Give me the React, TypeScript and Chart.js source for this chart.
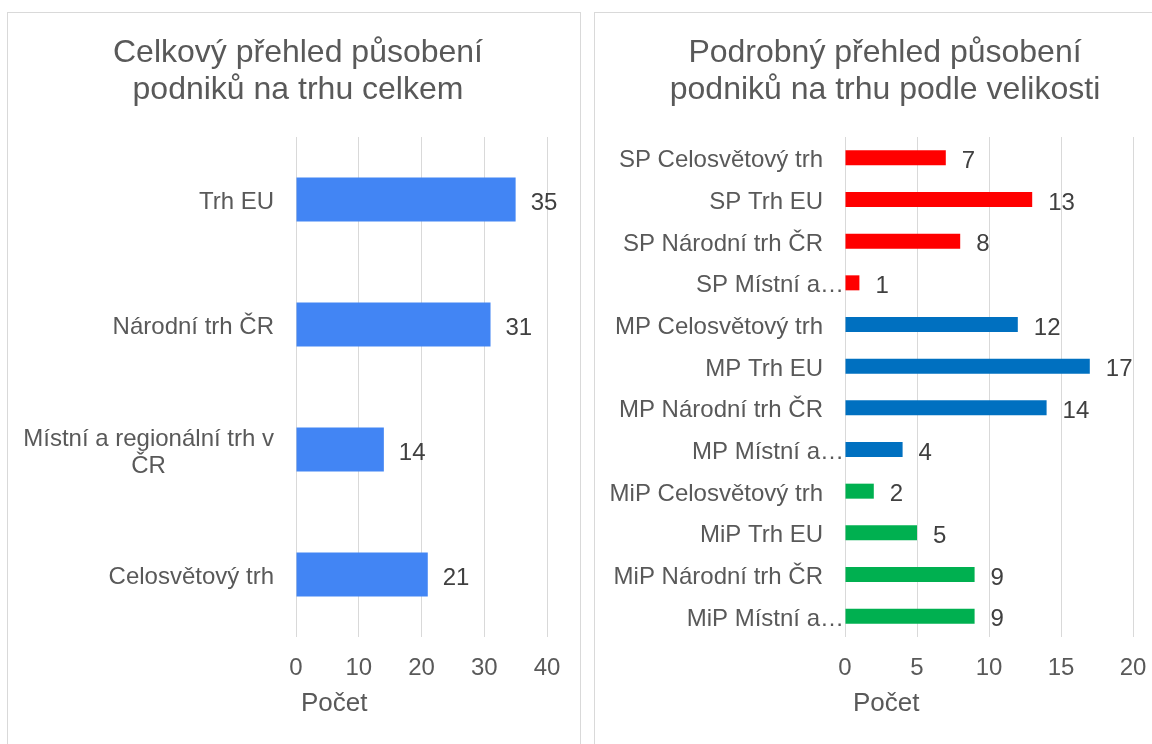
import React, { useEffect, useRef } from 'react';
import { Chart, registerables } from 'chart.js';

Chart.register(...registerables);

const FONT = '"Liberation Sans", Arial, Helvetica, sans-serif';

// ---- data ----
const totalTitle = ['Celkový přehled působení', 'podniků na trhu celkem'];
const totalCategories = ['Trh EU', 'Národní trh ČR', 'Místní a regionální trh v ČR', 'Celosvětový trh'];
const totalValues = [35, 31, 14, 21];
const totalAxisMax = 40;
const totalAxisStep = 10;

const detailTitle = ['Podrobný přehled působení', 'podniků na trhu podle velikosti'];
const detailCategories = [
  'SP Celosvětový trh',
  'SP Trh EU',
  'SP Národní trh ČR',
  'SP Místní a…',
  'MP Celosvětový trh',
  'MP Trh EU',
  'MP Národní trh ČR',
  'MP Místní a…',
  'MiP Celosvětový trh',
  'MiP Trh EU',
  'MiP Národní trh ČR',
  'MiP Místní a…',
];
const detailValues = [7, 13, 8, 1, 12, 17, 14, 4, 2, 5, 9, 9];
const detailGroups = ['SP', 'SP', 'SP', 'SP', 'MP', 'MP', 'MP', 'MP', 'MiP', 'MiP', 'MiP', 'MiP'];
const detailAxisMax = 20;
const detailAxisStep = 5;

const axisTitle = 'Počet';

// ---- styles ----
const totalColor = '#4285F4';
const groupColors: Record<string, string> = { SP: '#FF0000', MP: '#0070C0', MiP: '#00B050' };
const TEXT = '#595959';
const VALUE_TEXT = '#404040';
const GRID = '#D9D9D9';

function wrapText(ctx: CanvasRenderingContext2D, text: string, maxWidth: number): string[] {
  const words = text.split(' ');
  const lines: string[] = [];
  let cur = '';
  for (const w of words) {
    const test = cur ? cur + ' ' + w : w;
    if (cur && ctx.measureText(test).width > maxWidth) {
      lines.push(cur);
      cur = w;
    } else {
      cur = test;
    }
  }
  if (cur) lines.push(cur);
  return lines;
}

// Chart title, category labels and axis title, positioned from the chart's own area/scales
const textPlugin = {
  id: 'panelText',
  afterDraw(chart: any, _args: any, opts: any) {
    const { ctx, chartArea } = chart;
    const scale = chart.scales.y;
    const labels = chart.data.labels as string[];
    ctx.save();
    ctx.textBaseline = 'middle';

    // title
    ctx.font = `32px ${FONT}`;
    ctx.fillStyle = TEXT;
    ctx.textAlign = 'center';
    (opts.title as string[]).forEach((ln, j) => {
      ctx.fillText(ln, opts.titleX, opts.titleY + j * opts.titleLineHeight);
    });

    // category labels
    ctx.font = `24px ${FONT}`;
    labels.forEach((label, i) => {
      const y = scale.getPixelForValue(i);
      const lines = wrapText(ctx, label, opts.maxWidth);
      const w = Math.max(...lines.map((l) => ctx.measureText(l).width));
      const gap = label.endsWith('…') ? opts.truncGap : opts.gap;
      const cx = chartArea.left - gap - w / 2;
      lines.forEach((ln, j) => {
        ctx.fillText(ln, cx, y + (j - (lines.length - 1) / 2) * opts.lineHeight + opts.dy);
      });
    });

    // axis title
    ctx.font = `26px ${FONT}`;
    ctx.textAlign = 'left';
    ctx.fillText(opts.axisTitle, chartArea.left + opts.axisTitleDx, chartArea.bottom + opts.axisTitleDy);
    ctx.restore();
  },
};

const valueLabelsPlugin = {
  id: 'valueLabels',
  afterDatasetsDraw(chart: any, _args: any, opts: any) {
    const { ctx } = chart;
    const meta = chart.getDatasetMeta(0);
    const data = chart.data.datasets[0].data as number[];
    ctx.save();
    ctx.font = `24px ${FONT}`;
    ctx.fillStyle = VALUE_TEXT;
    ctx.textBaseline = 'middle';
    ctx.textAlign = 'left';
    meta.data.forEach((bar: any, i: number) => {
      ctx.fillText(String(data[i]), bar.x + opts.gap, bar.y + opts.dy);
    });
    ctx.restore();
  },
};

interface PanelProps {
  title: string[];
  labels: string[];
  values: number[];
  colors: string[];
  max: number;
  step: number;
  yWidth: number;
  padRight: number;
  barPct: number;
  valueGap: number;
  axisTitleDx: number;
  left: number;
}

function BarPanel(p: PanelProps) {
  const ref = useRef<HTMLCanvasElement | null>(null);
  useEffect(() => {
    if (!ref.current) return;
    const chart = new Chart(ref.current, {
      type: 'bar',
      data: {
        labels: p.labels,
        datasets: [
          {
            data: p.values,
            backgroundColor: p.colors,
            borderWidth: 0,
            barPercentage: p.barPct,
            categoryPercentage: 1,
          },
        ],
      },
      options: {
        indexAxis: 'y',
        responsive: false,
        animation: false,
        events: [],
        layout: { padding: { top: 124, left: 0, right: p.padRight, bottom: 17 } },
        plugins: {
          legend: { display: false },
          tooltip: { enabled: false },
          title: { display: false },
          panelText: {
            title: p.title,
            titleX: 290,
            titleY: 40.5,
            titleLineHeight: 36.8,
            maxWidth: 262,
            gap: 22,
            truncGap: 1,
            lineHeight: 27,
            dy: 3,
            axisTitle: axisTitle,
            axisTitleDx: p.axisTitleDx,
            axisTitleDy: 67,
          },
          valueLabels: { gap: p.valueGap, dy: 3.5 },
        } as any,
        scales: {
          x: {
            type: 'linear',
            min: 0,
            max: p.max,
            ticks: {
              stepSize: p.step,
              color: TEXT,
              font: { family: FONT, size: 24 },
              padding: 17,
            },
            grid: { color: GRID, lineWidth: 1, drawTicks: false },
            border: { display: false },
            afterFit: (s: any) => {
              s.height = 90;
            },
          },
          y: {
            type: 'category',
            ticks: { display: false },
            grid: { display: false },
            border: { display: false },
            afterFit: (s: any) => {
              s.width = p.yWidth;
            },
          },
        },
      },
      plugins: [textPlugin, valueLabelsPlugin],
    } as any);
    return () => chart.destroy();
  }, []);
  return (
    <div style={{ position: 'absolute', left: p.left, top: 13, width: 580, height: 731 }}>
      <canvas ref={ref} width={580} height={731} style={{ width: 580, height: 731, display: 'block' }} />
    </div>
  );
}

export default function App() {
  const detailColors = detailGroups.map((g) => groupColors[g]);
  const totalColors = totalValues.map(() => totalColor);
  return (
    <div
      style={{
        position: 'fixed',
        left: 0,
        top: 0,
        width: 1152,
        height: 744,
        overflow: 'hidden',
        background: '#FFFFFF',
      }}
    >
      <div
        style={{
          position: 'absolute',
          left: 7,
          top: 12,
          width: 574,
          height: 800,
          border: `1px solid ${GRID}`,
          boxSizing: 'border-box',
        }}
      />
      <div
        style={{
          position: 'absolute',
          left: 594,
          top: 12,
          width: 700,
          height: 800,
          border: `1px solid ${GRID}`,
          boxSizing: 'border-box',
        }}
      />
      <BarPanel
        title={totalTitle}
        labels={totalCategories}
        values={totalValues}
        colors={totalColors}
        max={totalAxisMax}
        step={totalAxisStep}
        yWidth={288}
        padRight={41}
        barPct={0.352}
        valueGap={15}
        axisTitleDx={5}
        left={8}
      />
      <BarPanel
        title={detailTitle}
        labels={detailCategories}
        values={detailValues}
        colors={detailColors}
        max={detailAxisMax}
        step={detailAxisStep}
        yWidth={250}
        padRight={42}
        barPct={0.36}
        valueGap={16}
        axisTitleDx={8}
        left={595}
      />
    </div>
  );
}
